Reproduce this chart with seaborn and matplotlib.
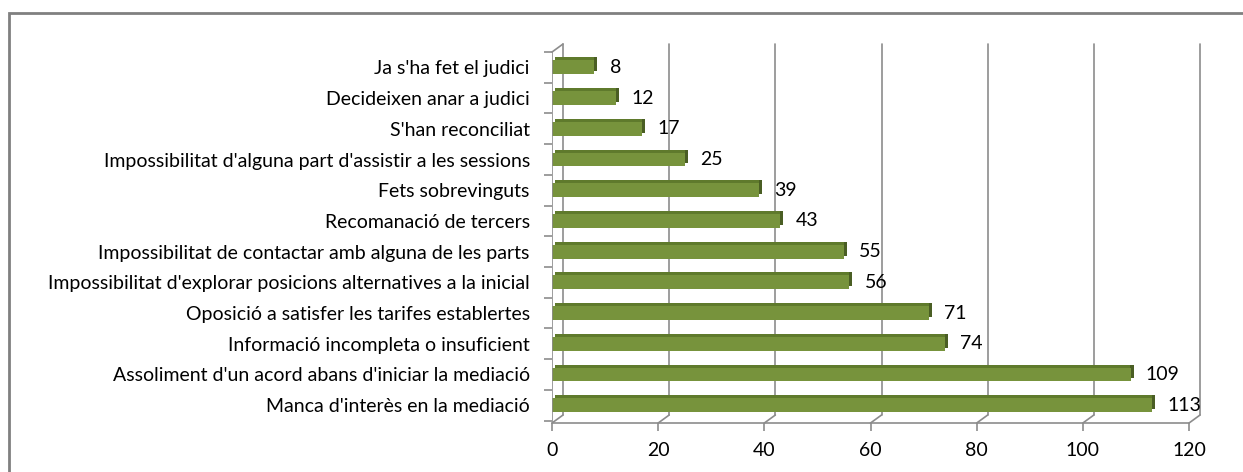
import numpy as np
import pandas as pd
import matplotlib
matplotlib.use("Agg")
import matplotlib.pyplot as plt
import matplotlib.transforms as mtransforms
from matplotlib.patches import Rectangle
from matplotlib.lines import Line2D
import seaborn as sns

# ------------------------------------------------------------
# DATA
# ------------------------------------------------------------
motius = [
    "Ja s'ha fet el judici",
    "Decideixen anar a judici",
    "S'han reconciliat",
    "Impossibilitat d'alguna part d'assistir a les sessions",
    "Fets sobrevinguts",
    "Recomanació de tercers",
    "Impossibilitat de contactar amb alguna de les parts",
    "Impossibilitat d'explorar posicions alternatives a la inicial",
    "Oposició a satisfer les tarifes establertes",
    "Informació incompleta o insuficient",
    "Assoliment d'un acord abans d'iniciar la mediació",
    "Manca d'interès en la mediació",
]
casos = [8, 12, 17, 25, 39, 43, 55, 56, 71, 74, 109, 113]
x_ticks = [0, 20, 40, 60, 80, 100, 120]

df = pd.DataFrame({"motiu": motius, "casos": casos})

# ------------------------------------------------------------
# STYLE
# ------------------------------------------------------------
sns.set_style("white")
plt.rcParams["font.family"] = ["Lato", "DejaVu Sans"]

FRONT = "#77933C"
TOP = "#5F7A2C"
SIDE = "#4A5E24"
GRID = "#8C8C8C"
FS = 14

fig = plt.figure(figsize=(12.43, 4.72), dpi=100)
ax = fig.add_axes([0.4441, 0.1038, 0.5125, 0.786])

sns.barplot(data=df, x="casos", y="motiu", orient="h", color=FRONT,
            width=0.45, saturation=1, edgecolor="none",
            ax=ax, zorder=3)

ax.set_xlim(0, 120)
ax.set_ylim(11.58, -0.39)
ax.set_xlabel("")
ax.set_ylabel("")

# depth faces of the bars: top strip and darker right side
d = 3
top_tr = mtransforms.offset_copy(ax.transData, fig=fig, x=d, y=d, units="dots")
for p in list(ax.patches):
    x0, y0, w, h = p.get_x(), p.get_y(), p.get_width(), p.get_height()
    ax.add_patch(Rectangle((x0, y0), w, h, transform=top_tr, facecolor=TOP,
                           edgecolor="none", zorder=2.5))
    side_tr = mtransforms.offset_copy(ax.transData, fig=fig, x=d, y=d,
                                      units="dots")
    ax.add_patch(Rectangle((x0 + w - 0.6, y0), 0.6, h, transform=side_tr,
                           facecolor=SIDE, edgecolor="none", zorder=2.6))

for s in ax.spines.values():
    s.set_visible(False)

# back wall gridlines, shifted behind the front plane
dx, dy = 11, 8
wall = mtransforms.offset_copy(ax.get_xaxis_transform(), fig=fig, x=dx, y=dy,
                               units="dots")
for t in x_ticks:
    ax.plot([t, t], [0, 1], transform=wall, color=GRID, lw=1.2, zorder=1,
            clip_on=False)

# floor diagonals and front axes
fig.canvas.draw()
tr = ax.transData
for t in x_ticks:
    x0, y0 = tr.transform((t, ax.get_ylim()[0]))
    fig.add_artist(Line2D([x0, x0 + dx], [y0, y0 + dy], transform=None,
                          color=GRID, lw=1.2))
lx, ty = tr.transform((0, ax.get_ylim()[1]))
fig.add_artist(Line2D([lx, lx + dx], [ty, ty + dy], transform=None,
                      color=GRID, lw=1.2))

ax.axvline(0, color=GRID, lw=1.2, zorder=4)
ax.axhline(ax.get_ylim()[0], color=GRID, lw=1.2, zorder=4, clip_on=False)

# ticks
ax.set_xticks(x_ticks)
ax.set_xticklabels([str(t) for t in x_ticks])
ax.set_yticks(range(len(motius)))
ax.set_yticklabels(motius)
ax.set_yticks(np.arange(-0.5, len(motius) + 0.5, 1), minor=True)
ax.tick_params(axis="y", which="major", length=0, pad=16, labelsize=FS,
               labelcolor="black")
ax.tick_params(axis="y", which="minor", length=6, color=GRID, width=1.2,
               left=True)
ax.tick_params(axis="x", length=6, color=GRID, width=1.2, pad=8,
               labelsize=FS, labelcolor="black", bottom=True)

# value labels
bars = ax.containers[0]
ax.bar_label(bars, labels=[str(v) for v in casos], padding=11,
             fontsize=FS, color="black")

# outer chart border
fig.add_artist(Rectangle((9 / 1243, -0.1), 1.2, 1.0725, transform=fig.transFigure,
                         fill=False, edgecolor="#808080", lw=2))

fig.savefig("out.png", dpi=100)
